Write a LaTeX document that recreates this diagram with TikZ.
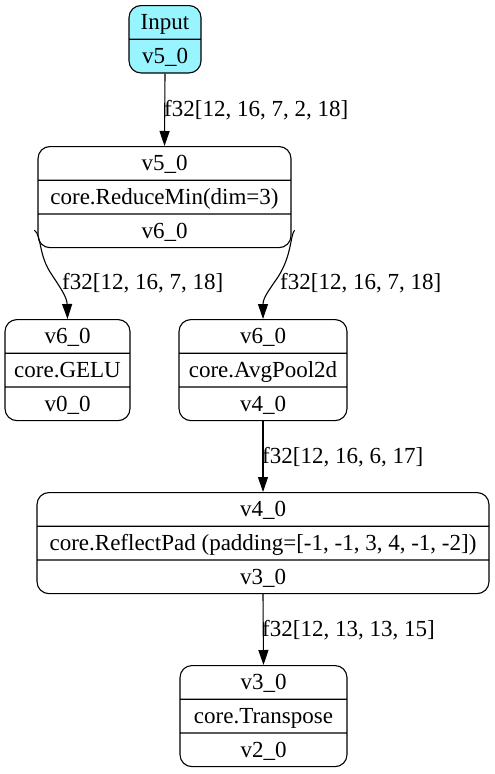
\documentclass[tikz,border=0pt]{standalone}
\usepackage{fontspec}
\setmainfont{Liberation Serif}
\usetikzlibrary{shapes.multipart,arrows.meta}
\definecolor{inputfill}{RGB}{152,245,255}
\newcommand{\pst}{\rule[-9pt]{0pt}{32.6pt}}
\begin{document}
\begin{tikzpicture}[x=1pt,y=-1pt,
  rec/.style={draw, line width=1.1pt, rectangle split, rectangle split parts=3,
    rectangle split draw splits=true, rounded corners=12pt,
    inner xsep=0pt, inner ysep=0pt, anchor=north,
    font=\fontsize{23}{27}\selectfont},
  rec2/.style={rec, rectangle split parts=2},
  edge/.style={line width=1.1pt, -{Triangle[length=15pt,width=10pt]}},
  lab/.style={font=\fontsize{23}{27}\selectfont, inner sep=0pt, anchor=west}
]
\useasboundingbox (0,0) rectangle (495,774);

\node[rec2, fill=inputfill, minimum width=72pt] (inp) at (165,5)
  {\pst Input \nodepart{two}\pst v5\_0};
\node[rec, minimum width=253pt] (rm) at (164.5,146)
  {\pst v5\_0 \nodepart{two}\pst core.ReduceMin(dim=3) \nodepart{three}\pst v6\_0};
\node[rec, minimum width=125pt] (gelu) at (67.5,319)
  {\pst v6\_0 \nodepart{two}\pst core.GELU \nodepart{three}\pst v0\_0};
\node[rec, minimum width=168pt] (avg) at (263,319)
  {\pst v6\_0 \nodepart{two}\pst core.AvgPool2d \nodepart{three}\pst v4\_0};
\node[rec, minimum width=452pt] (pad) at (263,492)
  {\pst v4\_0 \nodepart{two}\pst core.ReflectPad (padding=[-1, -1, 3, 4, -1, -2]) \nodepart{three}\pst v3\_0};
\node[rec, minimum width=167pt] (tr) at (263.5,665)
  {\pst v3\_0 \nodepart{two}\pst core.Transpose \nodepart{three}\pst v2\_0};

\draw[edge] (inp.south) -- (rm.north);
\draw[edge] ([shift={(-3pt,18pt)}]rm.south west) .. controls (42,236) and (38,255) .. (52,275)
  .. controls (62,290) and (67,298) .. (gelu.north);
\draw[edge] ([shift={(3pt,18pt)}]rm.south east) .. controls (290,236) and (292,255) .. (278,277)
  .. controls (269,290) and (263,298) .. (avg.north);
\draw[edge] (avg.south) -- (pad.north);
\draw[edge] (pad.south) -- (tr.north);

\node[lab] (l1) at (164,110) {f32[12, 16, 7, 2, 18]};
\node[lab] (l2) at (62,283) {f32[12, 16, 7, 18]};
\node[lab] (l3) at (280,283) {f32[12, 16, 7, 18]};
\node[lab] (l4) at (262,457) {f32[12, 16, 6, 17]};
\node[lab] (l5) at (262,630) {f32[12, 13, 13, 15]};
\end{tikzpicture}
\end{document}
